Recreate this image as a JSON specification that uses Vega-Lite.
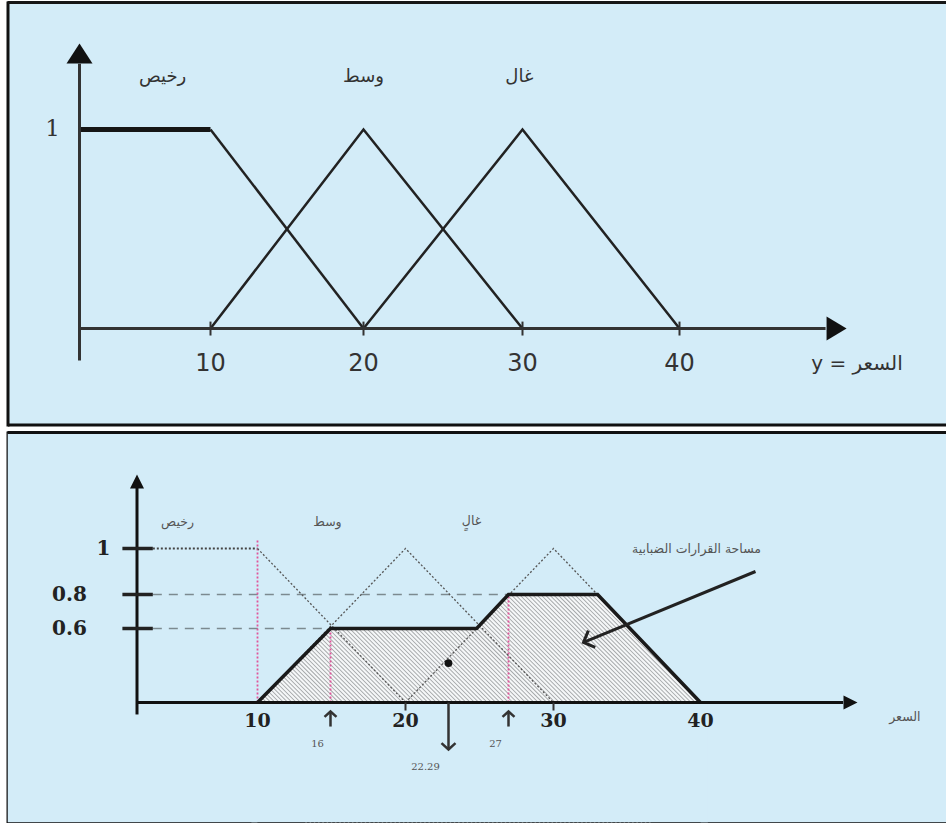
{
  "$schema": "https://vega.github.io/schema/vega-lite/v6.json",
  "background": "#ffffff",
  "padding": {"left": 5.5, "top": 0.5, "right": 0, "bottom": 0},
  "spacing": 6,
  "config": {"view": {"fill": "#d3ecf8", "stroke": null}, "axis": {"grid": false}},
  "datasets": {
    "top_tri": [
      {"s": "رخيص", "x": 10, "y": 1}, {"s": "رخيص", "x": 20, "y": 0},
      {"s": "وسط", "x": 10, "y": 0}, {"s": "وسط", "x": 20, "y": 1}, {"s": "وسط", "x": 30, "y": 0},
      {"s": "غال", "x": 20, "y": 0}, {"s": "غال", "x": 30, "y": 1}, {"s": "غال", "x": 40, "y": 0}
    ],
    "trap": [
      {"x": 10, "y": 0}, {"x": 16, "y": 0.6}, {"x": 24.5, "y": 0.6},
      {"x": 27, "y": 0.8}, {"x": 33, "y": 0.8}, {"x": 40, "y": 0}
    ]
  },
  "vconcat": [
    {
      "width": 939,
      "height": 422,
      "layer": [
        {
          "data": {"name": "top_tri"},
          "mark": {"type": "line", "color": "#222222", "strokeWidth": 2.5},
          "encoding": {
            "x": {"field": "x", "type": "quantitative",
              "scale": {"domain": [-5.5, 0, 10, 20, 30, 40, 57], "range": [0, 72, 203, 356, 515, 672, 939], "nice": false, "zero": false},
              "axis": {"orient": "bottom", "labels": false, "ticks": false, "title": null, "domainColor": "#111111", "domainWidth": 3}},
            "y": {"field": "y", "type": "quantitative",
              "scale": {"domain": [-0.482, 1.638], "nice": false, "zero": false},
              "axis": {"orient": "left", "labels": false, "ticks": false, "title": null, "domainColor": "#111111", "domainWidth": 3, "domainCap": "square"}},
            "detail": {"field": "s", "type": "nominal"}
          }
        },
        {
          "data": {"values": [
            {"x": -5.5, "x2": 57, "y": 1.638, "y2": 1.638, "w": "border"},
            {"x": 0, "x2": 10, "y": 1, "y2": 1, "w": "plateau"}
          ]},
          "mark": {"type": "rule", "color": "#161616"},
          "encoding": {
            "x": {"field": "x", "type": "quantitative"},
            "x2": {"field": "x2"},
            "y": {"field": "y", "type": "quantitative"},
            "y2": {"field": "y2"},
            "strokeWidth": {"field": "w", "type": "nominal", "scale": {"domain": ["border", "plateau"], "range": [3, 5]}, "legend": null}
          }
        },
        {
          "data": {"values": [{"x": 0, "x2": 49.3, "y": 0, "y2": 0}, {"x": 0, "x2": 0, "y": -0.16, "y2": 1.33}]},
          "mark": {"type": "rule", "color": "#333333", "strokeWidth": 3},
          "encoding": {
            "x": {"field": "x", "type": "quantitative"},
            "x2": {"field": "x2"},
            "y": {"field": "y", "type": "quantitative"},
            "y2": {"field": "y2"}
          }
        },
        {
          "data": {"values": [{"x": 0, "y": 1.382}]},
          "mark": {"type": "point", "shape": "M-0.65,0.5L0.65,0.5L0,-0.5Z", "filled": true, "size": 1600, "color": "#111111", "opacity": 1},
          "encoding": {
            "x": {"field": "x", "type": "quantitative"},
            "y": {"field": "y", "type": "quantitative"}
          }
        },
        {
          "data": {"values": [{"x": 50, "y": 0}]},
          "mark": {"type": "point", "shape": "M-0.5,-0.6L0.5,0L-0.5,0.6Z", "filled": true, "size": 1600, "color": "#111111", "opacity": 1},
          "encoding": {
            "x": {"field": "x", "type": "quantitative"},
            "y": {"field": "y", "type": "quantitative"}
          }
        },
        {
          "data": {"values": [{"v": 10, "a": -0.035, "b": 0.035}, {"v": 20, "a": -0.035, "b": 0.035}, {"v": 30, "a": -0.035, "b": 0.035}, {"v": 40, "a": -0.035, "b": 0.035}]},
          "mark": {"type": "rule", "color": "#333333", "strokeWidth": 2},
          "encoding": {
            "x": {"field": "v", "type": "quantitative"},
            "y": {"field": "a", "type": "quantitative"},
            "y2": {"field": "b"}
          }
        },
        {
          "data": {"values": [{"v": 10, "y": -0.176}, {"v": 20, "y": -0.176}, {"v": 30, "y": -0.176}, {"v": 40, "y": -0.176}]},
          "mark": {"type": "text", "font": "DejaVu Sans", "fontSize": 24, "color": "#333333", "baseline": "middle"},
          "encoding": {
            "x": {"field": "v", "type": "quantitative"},
            "y": {"field": "y", "type": "quantitative"},
            "text": {"field": "v", "type": "quantitative"}
          }
        },
        {
          "data": {"values": [{"t": "رخيص", "x": 6.34, "y": 1.266}, {"t": "وسط", "x": 20, "y": 1.266}, {"t": "غال", "x": 29.8, "y": 1.266}]},
          "mark": {"type": "text", "font": "DejaVu Sans", "fontSize": 18, "color": "#333333", "baseline": "middle"},
          "encoding": {
            "x": {"field": "x", "type": "quantitative"},
            "y": {"field": "y", "type": "quantitative"},
            "text": {"field": "t", "type": "nominal"}
          }
        },
        {
          "data": {"values": [{"t": "1", "x": -2.06, "y": 1}]},
          "mark": {"type": "text", "font": "DejaVu Serif", "fontSize": 23, "color": "#333333", "baseline": "middle"},
          "encoding": {
            "x": {"field": "x", "type": "quantitative"},
            "y": {"field": "y", "type": "quantitative"},
            "text": {"field": "t", "type": "nominal"}
          }
        },
        {
          "data": {"values": [{"t": "y = السعر", "x": 51.3, "y": -0.176}]},
          "mark": {"type": "text", "font": "DejaVu Sans", "fontSize": 20, "color": "#333333", "baseline": "middle"},
          "encoding": {
            "x": {"field": "x", "type": "quantitative"},
            "y": {"field": "y", "type": "quantitative"},
            "text": {"field": "t", "type": "nominal"}
          }
        }
      ]
    },
    {
      "width": 939,
      "height": 390,
      "layer": [
        {
          "data": {"name": "trap"},
          "mark": {"type": "area", "color": "#f5f7f8", "opacity": 1},
          "encoding": {
            "x": {"field": "x", "type": "quantitative",
              "scale": {"domain": [-10.54, 10, 16, 20, 22.29, 27, 30, 40, 56.73], "range": [0, 250, 323, 398, 441, 501, 546, 693, 939], "nice": false, "zero": false},
              "axis": {"orient": "bottom", "labels": false, "ticks": false, "title": null, "domainColor": "#111111", "domainWidth": 3}},
            "y": {"field": "y", "type": "quantitative",
              "scale": {"domain": [-0.973, 0, 0.6, 0.8, 1, 1.504], "range": [390, 270, 196, 162, 116, 0], "nice": false, "zero": false},
              "axis": {"orient": "left", "labels": false, "ticks": false, "title": null, "domainColor": "#111111", "domainWidth": 3, "domainCap": "square"}}
          }
        },
        {
          "data": {"values": [{"x": 13.04, "x2": 37.41, "y": -0.884, "y2": 1.457}]},
          "mark": {"type": "rule", "color": "#a3a6a8", "strokeWidth": 520, "strokeDash": [0.9, 2.1], "clip": true},
          "encoding": {
            "x": {"field": "x", "type": "quantitative"},
            "x2": {"field": "x2"},
            "y": {"field": "y", "type": "quantitative"},
            "y2": {"field": "y2"}
          }
        },
        {
          "data": {"values": [
            {"x": -10.54, "y": -0.973, "t": 1.504}, {"x": 9.99, "y": -0.973, "t": 1.504}, {"x": 10, "y": 0, "t": 1.504},
            {"x": 16, "y": 0.6, "t": 1.504}, {"x": 24.5, "y": 0.6, "t": 1.504}, {"x": 27, "y": 0.8, "t": 1.504},
            {"x": 33, "y": 0.8, "t": 1.504}, {"x": 40, "y": 0, "t": 1.504}, {"x": 40.01, "y": -0.973, "t": 1.504},
            {"x": 56.73, "y": -0.973, "t": 1.504}
          ]},
          "mark": {"type": "area", "color": "#d3ecf8", "opacity": 1, "clip": true},
          "encoding": {
            "x": {"field": "x", "type": "quantitative"},
            "y": {"field": "y", "type": "quantitative"},
            "y2": {"field": "t"}
          }
        },
        {
          "data": {"values": [{"x": 9.5, "x2": 40.5, "y": -0.973, "y2": 0}]},
          "mark": {"type": "rect", "color": "#d3ecf8", "opacity": 1, "clip": true},
          "encoding": {
            "x": {"field": "x", "type": "quantitative"},
            "x2": {"field": "x2"},
            "y": {"field": "y", "type": "quantitative"},
            "y2": {"field": "y2"}
          }
        },
        {
          "data": {"values": [{"x": -10.54, "x2": 56.73, "y": 1.504, "y2": 1.504}]},
          "mark": {"type": "rule", "color": "#111111", "strokeWidth": 3},
          "encoding": {
            "x": {"field": "x", "type": "quantitative"},
            "x2": {"field": "x2"},
            "y": {"field": "y", "type": "quantitative"},
            "y2": {"field": "y2"}
          }
        },
        {
          "data": {"values": [{"lv": 1, "a": 1.4, "end": 10}]},
          "mark": {"type": "rule", "color": "#444444", "strokeWidth": 2, "strokeDash": [2, 2]},
          "encoding": {
            "x": {"field": "a", "type": "quantitative"},
            "x2": {"field": "end"},
            "y": {"field": "lv", "type": "quantitative"},
            "y2": {"field": "lv"}
          }
        },
        {
          "data": {"values": [{"lv": 0.8, "a": 1.4, "end": 27}, {"lv": 0.6, "a": 1.4, "end": 16}]},
          "mark": {"type": "rule", "color": "#7c8a90", "strokeWidth": 1.5, "strokeDash": [9, 7]},
          "encoding": {
            "x": {"field": "a", "type": "quantitative"},
            "x2": {"field": "end"},
            "y": {"field": "lv", "type": "quantitative"},
            "y2": {"field": "lv"}
          }
        },
        {
          "data": {"values": [{"x": 10, "b": 0, "top": 1.04}, {"x": 16, "b": 0, "top": 0.6}, {"x": 27, "b": 0, "top": 0.8}]},
          "mark": {"type": "rule", "color": "#e0559a", "strokeWidth": 1.8, "strokeDash": [2, 2]},
          "encoding": {
            "x": {"field": "x", "type": "quantitative"},
            "x2": {"field": "x"},
            "y": {"field": "b", "type": "quantitative"},
            "y2": {"field": "top"}
          }
        },
        {
          "data": {"name": "top_tri"},
          "mark": {"type": "line", "color": "#555555", "strokeWidth": 1.3, "strokeDash": [2, 2]},
          "encoding": {
            "x": {"field": "x", "type": "quantitative"},
            "y": {"field": "y", "type": "quantitative"},
            "detail": {"field": "s", "type": "nominal"}
          }
        },
        {
          "data": {"name": "trap"},
          "mark": {"type": "line", "color": "#1a1a1a", "strokeWidth": 3.5},
          "encoding": {
            "x": {"field": "x", "type": "quantitative"},
            "y": {"field": "y", "type": "quantitative"}
          }
        },
        {
          "data": {"values": [{"x": 0.1, "x2": 49.7, "y": 0, "y2": 0}, {"x": 0.1, "x2": 0.1, "y": -0.097, "y2": 1.29}]},
          "mark": {"type": "rule", "color": "#111111", "strokeWidth": 3},
          "encoding": {
            "x": {"field": "x", "type": "quantitative"},
            "x2": {"field": "x2"},
            "y": {"field": "y", "type": "quantitative"},
            "y2": {"field": "y2"}
          }
        },
        {
          "data": {"values": [{"x": 0.1, "y": 1.291}]},
          "mark": {"type": "point", "shape": "M-0.5,0.5L0.5,0.5L0,-0.5Z", "filled": true, "size": 784, "color": "#111111", "opacity": 1},
          "encoding": {
            "x": {"field": "x", "type": "quantitative"},
            "y": {"field": "y", "type": "quantitative"}
          }
        },
        {
          "data": {"values": [{"x": 50.2, "y": 0}]},
          "mark": {"type": "point", "shape": "M-0.5,-0.5L0.5,0L-0.5,0.5Z", "filled": true, "size": 784, "color": "#111111", "opacity": 1},
          "encoding": {
            "x": {"field": "x", "type": "quantitative"},
            "y": {"field": "y", "type": "quantitative"}
          }
        },
        {
          "data": {"values": [{"lv": 1, "a": -1.1, "b": 1.4}, {"lv": 0.8, "a": -1.1, "b": 1.4}, {"lv": 0.6, "a": -1.1, "b": 1.4}]},
          "mark": {"type": "rule", "color": "#222222", "strokeWidth": 3.5},
          "encoding": {
            "x": {"field": "a", "type": "quantitative"},
            "x2": {"field": "b"},
            "y": {"field": "lv", "type": "quantitative"},
            "y2": {"field": "lv"}
          }
        },
        {
          "data": {"values": [{"v": 20, "a": 0, "b": -0.065}, {"v": 30, "a": 0, "b": -0.065}]},
          "mark": {"type": "rule", "color": "#333333", "strokeWidth": 2},
          "encoding": {
            "x": {"field": "v", "type": "quantitative"},
            "x2": {"field": "v"},
            "y": {"field": "a", "type": "quantitative"},
            "y2": {"field": "b"}
          }
        },
        {
          "data": {"values": [{"x": 22.29, "y": 0.32}]},
          "mark": {"type": "point", "filled": true, "size": 60, "color": "#111111", "opacity": 1},
          "encoding": {
            "x": {"field": "x", "type": "quantitative"},
            "y": {"field": "y", "type": "quantitative"}
          }
        },
        {
          "data": {"values": [{"x": 16, "a": -0.073, "b": -0.195}, {"x": 27, "a": -0.073, "b": -0.195}, {"x": 22.29, "a": 0, "b": -0.381}]},
          "mark": {"type": "rule", "color": "#333333", "strokeWidth": 2.5},
          "encoding": {
            "x": {"field": "x", "type": "quantitative"},
            "x2": {"field": "x"},
            "y": {"field": "a", "type": "quantitative"},
            "y2": {"field": "b"}
          }
        },
        {
          "data": {"values": [{"x": 16, "y": -0.073}, {"x": 27, "y": -0.073}]},
          "mark": {"type": "point", "shape": "M-1,0.9L0,0L1,0.9", "filled": false, "strokeWidth": 2.5, "size": 144, "color": "#333333", "opacity": 1},
          "encoding": {
            "x": {"field": "x", "type": "quantitative"},
            "y": {"field": "y", "type": "quantitative"}
          }
        },
        {
          "data": {"values": [{"x": 22.29, "y": -0.381}]},
          "mark": {"type": "point", "shape": "M-1,-0.9L0,0L1,-0.9", "filled": false, "strokeWidth": 2.5, "size": 196, "color": "#333333", "opacity": 1},
          "encoding": {
            "x": {"field": "x", "type": "quantitative"},
            "y": {"field": "y", "type": "quantitative"}
          }
        },
        {
          "data": {"values": [{"x": 43.74, "x2": 32.04, "y": 0.9, "y2": 0.487}]},
          "mark": {"type": "rule", "color": "#222222", "strokeWidth": 3},
          "encoding": {
            "x": {"field": "x", "type": "quantitative"},
            "x2": {"field": "x2"},
            "y": {"field": "y", "type": "quantitative"},
            "y2": {"field": "y2"}
          }
        },
        {
          "data": {"values": [{"x": 32.04, "y": 0.487}]},
          "mark": {"type": "point", "shape": "M-1,1L0,0L1,1", "filled": false, "strokeWidth": 3, "size": 324, "angle": 247.5, "color": "#222222", "opacity": 1},
          "encoding": {
            "x": {"field": "x", "type": "quantitative"},
            "y": {"field": "y", "type": "quantitative"}
          }
        },
        {
          "data": {"values": [{"t": "1", "x": -2.65, "y": 1}, {"t": "0.8", "x": -5.45, "y": 0.8}, {"t": "0.6", "x": -5.45, "y": 0.6}]},
          "mark": {"type": "text", "font": "DejaVu Serif", "fontWeight": "bold", "fontSize": 20, "color": "#222222", "baseline": "middle"},
          "encoding": {
            "x": {"field": "x", "type": "quantitative"},
            "y": {"field": "y", "type": "quantitative"},
            "text": {"field": "t", "type": "nominal"}
          }
        },
        {
          "data": {"values": [{"v": 10, "y": -0.154}, {"v": 20, "y": -0.154}, {"v": 30, "y": -0.154}, {"v": 40, "y": -0.154}]},
          "mark": {"type": "text", "font": "DejaVu Serif", "fontWeight": "bold", "fontSize": 19, "color": "#222222", "baseline": "middle"},
          "encoding": {
            "x": {"field": "v", "type": "quantitative"},
            "y": {"field": "y", "type": "quantitative"},
            "text": {"field": "v", "type": "quantitative"}
          }
        },
        {
          "data": {"values": [{"t": "16", "x": 16, "y": -0.34}, {"t": "27", "x": 27, "y": -0.34}]},
          "mark": {"type": "text", "font": "DejaVu Serif", "fontSize": 10, "color": "#555555", "baseline": "middle", "dx": -13},
          "encoding": {
            "x": {"field": "x", "type": "quantitative"},
            "y": {"field": "y", "type": "quantitative"},
            "text": {"field": "t", "type": "nominal"}
          }
        },
        {
          "data": {"values": [{"t": "22.29", "x": 22.29, "y": -0.527}]},
          "mark": {"type": "text", "font": "DejaVu Serif", "fontSize": 10, "color": "#555555", "baseline": "middle", "dx": -23},
          "encoding": {
            "x": {"field": "x", "type": "quantitative"},
            "y": {"field": "y", "type": "quantitative"},
            "text": {"field": "t", "type": "nominal"}
          }
        },
        {
          "data": {"values": [
            {"t": "رخيص", "x": 3.43, "y": 1.115}, {"t": "وسط", "x": 15.75, "y": 1.115}, {"t": "غالٍ", "x": 24.1, "y": 1.12},
            {"t": "مساحة القرارات الضبابية", "x": 39.73, "y": 0.996}, {"t": "السعر", "x": 53.9, "y": -0.12}
          ]},
          "mark": {"type": "text", "font": "DejaVu Sans", "fontSize": 12.5, "color": "#555555", "baseline": "middle"},
          "encoding": {
            "x": {"field": "x", "type": "quantitative"},
            "y": {"field": "y", "type": "quantitative"},
            "text": {"field": "t", "type": "nominal"}
          }
        }
      ]
    }
  ]
}
